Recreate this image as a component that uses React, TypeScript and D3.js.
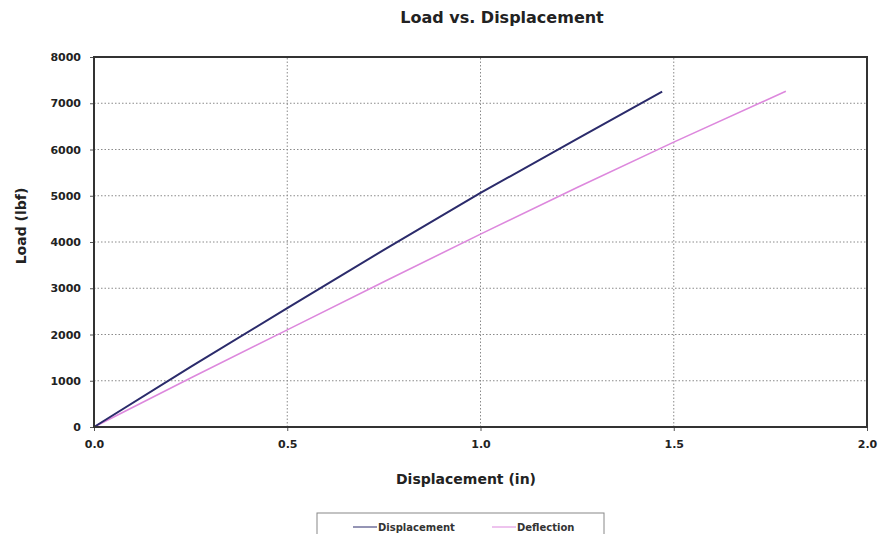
import React, { useEffect, useRef } from 'react';
import * as d3 from 'd3';

const dispX = [0, 0.25, 0.5, 0.75, 1.0, 1.25, 1.47];
const dispLoad = [0, 1300, 2570, 3830, 5060, 6230, 7250];

const deflX = [0, 0.25, 0.5, 0.75, 1.0, 1.25, 1.5, 1.79];
const deflLoad = [0, 1060, 2100, 3140, 4170, 5180, 6160, 7260];

const xTicks = [0, 0.5, 1.0, 1.5, 2.0];
const yTicks = [0, 1000, 2000, 3000, 4000, 5000, 6000, 7000, 8000];

const seriesNames = ['Displacement', 'Deflection'];
const seriesColors = ['#2b2b6b', '#dd88dd'];

const width = 879;
const height = 534;
const font = '"DejaVu Sans", Verdana, sans-serif';

function LoadChart() {
  const ref = useRef<SVGSVGElement | null>(null);

  useEffect(() => {
    const margin = { top: 57, right: 12, bottom: 107, left: 94 };
    const svg = d3.select(ref.current);
    svg.selectAll('*').remove();

    const x = d3.scaleLinear().domain([0, 2]).range([margin.left, width - margin.right]);
    const y = d3.scaleLinear().domain([0, 8000]).range([height - margin.bottom, margin.top]);

    svg.append('rect').attr('width', width).attr('height', height).attr('fill', '#fff');

    // grid
    const grid = svg.append('g').attr('stroke', '#8a8a8a').attr('stroke-dasharray', '1.5,2').attr('stroke-width', 1);
    grid
      .selectAll('line.gy')
      .data(yTicks.slice(1, -1))
      .enter()
      .append('line')
      .attr('x1', x(0))
      .attr('x2', x(2))
      .attr('y1', (d) => y(d))
      .attr('y2', (d) => y(d));
    grid
      .selectAll('line.gx')
      .data(xTicks.slice(1, -1))
      .enter()
      .append('line')
      .attr('x1', (d) => x(d))
      .attr('x2', (d) => x(d))
      .attr('y1', y(0))
      .attr('y2', y(8000));

    // axes
    const xAxis = svg
      .append('g')
      .attr('transform', `translate(0, ${y(0)})`)
      .call(d3.axisBottom(x).tickValues(xTicks).tickFormat(d3.format('.1f')).tickSize(4).tickPadding(9));
    const yAxis = svg
      .append('g')
      .attr('transform', `translate(${x(0)}, 0)`)
      .call(d3.axisLeft(y).tickValues(yTicks).tickFormat(d3.format('d')).tickSize(4).tickPadding(9));
    [xAxis, yAxis].forEach((g) => {
      g.select('.domain').remove();
      g.selectAll('line').attr('stroke', '#555');
      g.selectAll('text')
        .attr('font-family', font)
        .attr('font-size', 11)
        .attr('font-weight', 'bold')
        .attr('fill', '#222');
    });

    // lines
    const line = d3
      .line<[number, number]>()
      .x((d) => x(d[0]))
      .y((d) => y(d[1]));
    const dispData = dispX.map((v, i) => [v, dispLoad[i]] as [number, number]);
    const deflData = deflX.map((v, i) => [v, deflLoad[i]] as [number, number]);
    svg
      .append('path')
      .attr('d', line(deflData))
      .attr('fill', 'none')
      .attr('stroke', seriesColors[1])
      .attr('stroke-width', 1.6);
    svg
      .append('path')
      .attr('d', line(dispData))
      .attr('fill', 'none')
      .attr('stroke', seriesColors[0])
      .attr('stroke-width', 2);

    // plot border
    svg
      .append('rect')
      .attr('x', x(0))
      .attr('y', y(8000))
      .attr('width', x(2) - x(0))
      .attr('height', y(0) - y(8000))
      .attr('fill', 'none')
      .attr('stroke', '#333')
      .attr('stroke-width', 2);

    // titles
    svg
      .append('text')
      .attr('x', 502)
      .attr('y', 23)
      .attr('text-anchor', 'middle')
      .attr('font-family', font)
      .attr('font-size', 16)
      .attr('font-weight', 'bold')
      .attr('fill', '#222')
      .text('Load vs. Displacement');
    svg
      .append('text')
      .attr('x', 466)
      .attr('y', 484)
      .attr('text-anchor', 'middle')
      .attr('font-family', font)
      .attr('font-size', 14)
      .attr('font-weight', 'bold')
      .attr('fill', '#222')
      .text('Displacement (in)');
    svg
      .append('text')
      .attr('transform', 'translate(26, 226) rotate(-90)')
      .attr('text-anchor', 'middle')
      .attr('font-family', font)
      .attr('font-size', 14)
      .attr('font-weight', 'bold')
      .attr('fill', '#222')
      .text('Load (lbf)');

    // legend
    const legend = svg.append('g');
    legend
      .append('rect')
      .attr('x', 317)
      .attr('y', 513)
      .attr('width', 287)
      .attr('height', 40)
      .attr('fill', '#fff')
      .attr('stroke', '#888')
      .attr('stroke-width', 1);
    const lx = [353, 492];
    seriesNames.forEach((name, i) => {
      legend
        .append('line')
        .attr('x1', lx[i])
        .attr('x2', lx[i] + 24)
        .attr('y1', 527)
        .attr('y2', 527)
        .attr('stroke', seriesColors[i])
        .attr('stroke-width', 1);
      legend
        .append('text')
        .attr('x', lx[i] + 25)
        .attr('y', 531)
        .attr('font-family', font)
        .attr('font-size', 10)
        .attr('font-weight', 'bold')
        .attr('fill', '#333')
        .text(name);
    });
  }, []);

  return <svg ref={ref} width={width} height={height} style={{ position: 'absolute', left: 0, top: 0 }} />;
}

export default function App() {
  return <LoadChart />;
}
